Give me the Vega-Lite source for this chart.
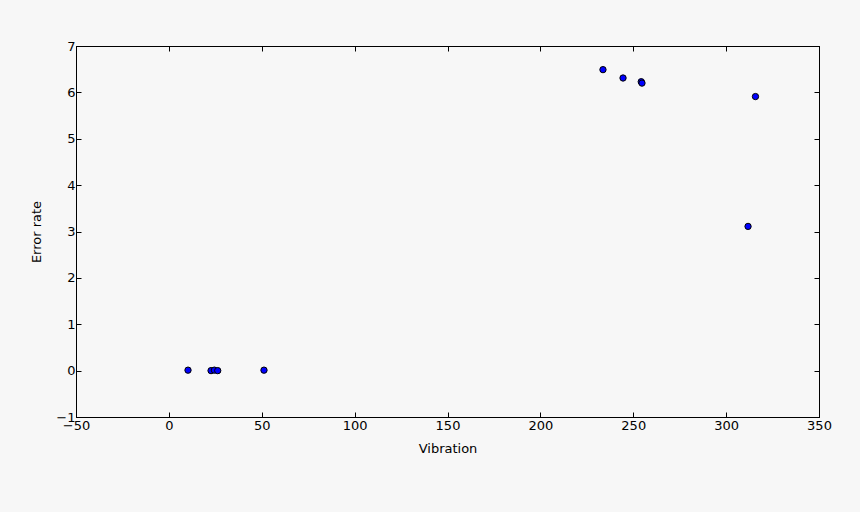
{
  "$schema": "https://vega.github.io/schema/vega-lite/v6.json",
  "width": 743,
  "height": 371,
  "autosize": {"type": "none"},
  "padding": {"left": 76, "top": 46, "right": 41, "bottom": 95},
  "background": "#f7f7f7",
  "config": {
    "view": {"fill": "#f7f7f7", "stroke": "black", "strokeWidth": 1},
    "font": "DejaVu Sans",
    "axis": {
      "grid": false,
      "domainColor": "black",
      "domainWidth": 1,
      "tickColor": "black",
      "tickSize": -5,
      "labelFlush": false,
      "labelOverlap": false,
      "labelFont": "DejaVu Sans",
      "labelFontSize": 13,
      "labelColor": "black",
      "titleFont": "DejaVu Sans",
      "titleFontSize": 13,
      "titleFontWeight": "normal",
      "titleColor": "black"
    }
  },
  "data": {
    "values": [
      {"vibration": 10.3, "error_rate": 0.01},
      {"vibration": 22.7, "error_rate": 0.0},
      {"vibration": 24.5, "error_rate": 0.01},
      {"vibration": 26.3, "error_rate": 0.0},
      {"vibration": 51.2, "error_rate": 0.01},
      {"vibration": 233.7, "error_rate": 6.49},
      {"vibration": 244.5, "error_rate": 6.31},
      {"vibration": 254.3, "error_rate": 6.23},
      {"vibration": 254.7, "error_rate": 6.2},
      {"vibration": 311.8, "error_rate": 3.11},
      {"vibration": 315.8, "error_rate": 5.91}
    ]
  },
  "layer": [
    {
      "mark": {"type": "point", "filled": true, "fill": "#0000ff", "stroke": "black", "strokeWidth": 1, "size": 40, "opacity": 1, "fillOpacity": 1},
      "encoding": {
        "x": {"field": "vibration", "type": "quantitative", "scale": {"domain": [-50, 350], "nice": false, "zero": false},
              "axis": {"title": "Vibration", "values": [-50, 0, 50, 100, 150, 200, 250, 300, 350], "labelPadding": 7, "titlePadding": 10}},
        "y": {"field": "error_rate", "type": "quantitative", "scale": {"domain": [-1, 7], "nice": false, "zero": false},
              "axis": {"title": "Error rate", "values": [-1, 0, 1, 2, 3, 4, 5, 6, 7], "labelPadding": 6, "titlePadding": 12}}
      }
    },
    {
      "mark": {"type": "point", "opacity": 0},
      "encoding": {
        "x": {"field": "vibration", "type": "quantitative", "scale": {"domain": [-50, 350], "nice": false, "zero": false},
              "axis": {"orient": "top", "title": null, "labels": false, "values": [-50, 0, 50, 100, 150, 200, 250, 300, 350]}},
        "y": {"field": "error_rate", "type": "quantitative", "scale": {"domain": [-1, 7], "nice": false, "zero": false},
              "axis": {"orient": "right", "title": null, "labels": false, "values": [-1, 0, 1, 2, 3, 4, 5, 6, 7]}}
      }
    }
  ],
  "resolve": {"axis": {"x": "independent", "y": "independent"}}
}
